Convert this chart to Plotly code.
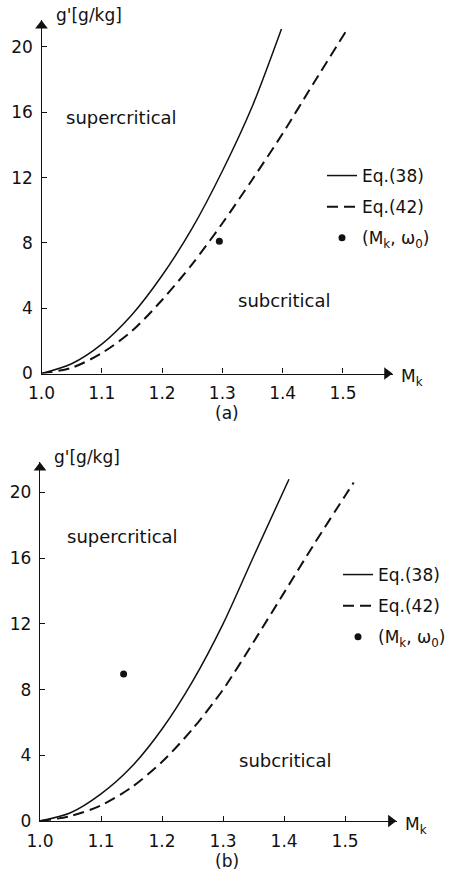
import plotly.graph_objects as go

# Critical curves g'(M_k), panel (a)
mk_a_eq38 = [1.0, 1.05, 1.1, 1.15, 1.2, 1.25, 1.3, 1.35, 1.398]
g_a_eq38 = [0.0, 0.6, 1.8, 3.6, 6.0, 8.9, 12.4, 16.4, 21.1]
mk_a_eq42 = [1.0, 1.05, 1.1, 1.15, 1.2, 1.25, 1.3, 1.35, 1.4, 1.45, 1.504]
g_a_eq42 = [0.0, 0.35, 1.25, 2.6, 4.5, 6.7, 9.2, 11.9, 14.7, 17.7, 20.9]
mk_a_point = [1.295]
g_a_point = [8.1]

# Critical curves g'(M_k), panel (b)
mk_b_eq38 = [1.0, 1.05, 1.1, 1.15, 1.2, 1.25, 1.3, 1.35, 1.408]
g_b_eq38 = [0.0, 0.5, 1.65, 3.3, 5.6, 8.5, 12.0, 16.1, 20.8]
mk_b_eq42 = [1.0, 1.05, 1.1, 1.15, 1.2, 1.25, 1.3, 1.35, 1.4, 1.45, 1.5, 1.514]
g_b_eq42 = [0.0, 0.3, 0.95, 2.05, 3.6, 5.6, 8.0, 10.9, 13.9, 16.9, 19.8, 20.6]
mk_b_point = [1.137]
g_b_point = [8.95]

x_ticks = [1.0, 1.1, 1.2, 1.3, 1.4, 1.5]
x_tick_text = ["1.0", "1.1", "1.2", "1.3", "1.4", "1.5"]
y_ticks = [0, 4, 8, 12, 16, 20]

FONT = "DejaVu Sans"
INK = "#111111"

fig = go.Figure()

W, H = 456, 881
# pixel geometry of the two panels
top = dict(x0=41.5, x1=393, y0=373.5, y1=20, xmax=1.583, ymax=21.65)
bot = dict(x0=40, x1=397, y0=821, y1=462, xmax=1.585, ymax=21.85)

panels = [
    ("x", "y", "legend", top, mk_a_eq38, g_a_eq38, mk_a_eq42, g_a_eq42, mk_a_point, g_a_point),
    ("x2", "y2", "legend2", bot, mk_b_eq38, g_b_eq38, mk_b_eq42, g_b_eq42, mk_b_point, g_b_point),
]
for xa, ya, lg, p, m38, g38, m42, g42, mp, gp in panels:
    fig.add_trace(go.Scatter(x=m38, y=g38, xaxis=xa, yaxis=ya, mode="lines",
                             line=dict(color=INK, width=1.5, shape="spline", smoothing=0.8),
                             name="Eq.(38)", legend=lg, legendgroup=lg + "a"))
    fig.add_trace(go.Scatter(x=m42, y=g42, xaxis=xa, yaxis=ya, mode="lines",
                             line=dict(color=INK, width=2, dash="11px,6px", shape="spline",
                                       smoothing=0.8),
                             name="Eq.(42)", legend=lg, legendgroup=lg + "b"))
    fig.add_trace(go.Scatter(x=mp, y=gp, xaxis=xa, yaxis=ya, mode="markers",
                             marker=dict(color=INK, size=7),
                             name="(M<sub>k</sub>, ω<sub>0</sub>)", legend=lg,
                             legendgroup=lg + "c"))
    # arrow heads closing both axes
    fig.add_trace(go.Scatter(x=[p["xmax"] - 0.010, 1.0], y=[0, p["ymax"] - 0.35],
                             xaxis=xa, yaxis=ya, mode="markers", cliponaxis=False,
                             marker=dict(color=INK, size=11,
                                         symbol=["triangle-right", "triangle-up"]),
                             showlegend=False, hoverinfo="skip"))


def xaxis_cfg(p, anchor):
    return dict(domain=[p["x0"] / W, p["x1"] / W], range=[1.0, p["xmax"]],
                anchor=anchor, automargin=False,
                showgrid=False, zeroline=False, showline=True, linecolor=INK,
                linewidth=1.3, ticks="inside", ticklen=5, tickcolor=INK,
                tickvals=x_ticks, ticktext=x_tick_text, ticklabelstandoff=4,
                tickfont=dict(family=FONT, size=17, color=INK))


def yaxis_cfg(p, anchor):
    return dict(domain=[1 - p["y0"] / H, 1 - p["y1"] / H], range=[0, p["ymax"]],
                anchor=anchor, automargin=False,
                showgrid=False, zeroline=False, showline=True, linecolor=INK,
                linewidth=1.3, ticks="inside", ticklen=5, tickcolor=INK,
                tickvals=y_ticks, ticklabelstandoff=4,
                tickfont=dict(family=FONT, size=17, color=INK))


def legend_cfg(xpx, ypx):
    return dict(x=xpx / W, y=1 - ypx / H, xanchor="left", yanchor="top",
                bgcolor="rgba(0,0,0,0)", tracegroupgap=6, itemwidth=30,
                font=dict(family=FONT, size=17, color=INK))


ann = []
for p, tag in [(top, "(a)"), (bot, "(b)")]:
    ann.append(dict(x=(p["x0"] + 12) / W, y=1 - (p["y1"] - 5) / H, xref="paper", yref="paper",
                    text="g'[g/kg]", showarrow=False, xanchor="left", yanchor="middle",
                    font=dict(family=FONT, size=17, color=INK)))
    ann.append(dict(x=(p["x1"] + 6) / W, y=1 - (p["y0"] + 4) / H, xref="paper", yref="paper",
                    text="M<sub>k</sub>", showarrow=False, xanchor="left", yanchor="middle",
                    font=dict(family=FONT, size=17, color=INK)))
    ann.append(dict(x=227 / W, y=1 - (p["y0"] + 40) / H, xref="paper", yref="paper",
                    text=tag, showarrow=False, xanchor="center", yanchor="middle",
                    font=dict(family=FONT, size=17, color=INK)))

ann += [
    dict(x=1.037, y=15.7, xref="x", yref="y", text="supercritical", showarrow=False,
         xanchor="left", yanchor="middle", font=dict(family=FONT, size=18, color=INK)),
    dict(x=1.323, y=4.5, xref="x", yref="y", text="subcritical", showarrow=False,
         xanchor="left", yanchor="middle", font=dict(family=FONT, size=18, color=INK)),
    dict(x=1.041, y=17.3, xref="x2", yref="y2", text="supercritical", showarrow=False,
         xanchor="left", yanchor="middle", font=dict(family=FONT, size=18, color=INK)),
    dict(x=1.323, y=3.7, xref="x2", yref="y2", text="subcritical", showarrow=False,
         xanchor="left", yanchor="middle", font=dict(family=FONT, size=18, color=INK)),
]

fig.update_layout(
    width=W, height=H, autosize=False,
    margin=dict(l=0, r=0, t=0, b=0, pad=0),
    paper_bgcolor="white", plot_bgcolor="white",
    xaxis=xaxis_cfg(top, "y"), yaxis=yaxis_cfg(top, "x"),
    xaxis2=xaxis_cfg(bot, "y2"), yaxis2=yaxis_cfg(bot, "x2"),
    legend=legend_cfg(322, 158),
    legend2=legend_cfg(338, 557),
    annotations=ann,
    showlegend=True,
)

fig.write_html("out.html")
